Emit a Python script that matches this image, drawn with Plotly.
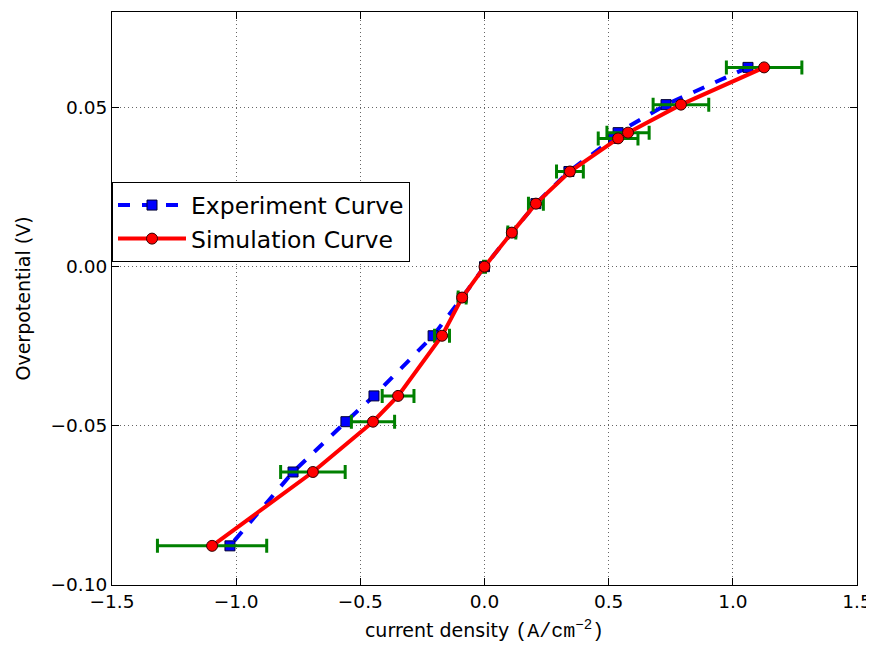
import plotly.graph_objects as go

# Experiment curve
exp_x = [1.061, 0.731, 0.538, 0.52, 0.34, 0.207, 0.11, 0.0, -0.09, -0.207, -0.445, -0.558, -0.771, -1.025]
exp_y = [0.0626, 0.0509, 0.0421, 0.0403, 0.0299, 0.0198, 0.0107, 0.0, -0.0097, -0.0217, -0.0406, -0.0487, -0.0645, -0.0877]

# Simulation curve
sim_x = [1.126, 0.791, 0.578, 0.538, 0.344, 0.207, 0.11, 0.0, -0.09, -0.171, -0.348, -0.449, -0.691, -1.097]
sim_y = [0.0626, 0.0509, 0.0421, 0.0403, 0.0299, 0.0198, 0.0107, 0.0, -0.0097, -0.0217, -0.0406, -0.0487, -0.0645, -0.0877]
sim_err = [0.152, 0.112, 0.085, 0.08, 0.054, 0.03, 0.016, 0.004, 0.016, 0.03, 0.064, 0.087, 0.13, 0.22]

x_ticks = [-1.5, -1.0, -0.5, 0.0, 0.5, 1.0, 1.5]
y_ticks = [-0.10, -0.05, 0.00, 0.05]

fig = go.Figure()
fig.add_trace(go.Scatter(
    x=exp_x, y=exp_y, mode="lines+markers", name="Experiment Curve",
    line=dict(color="#0000ff", width=4, dash="dash"),
    marker=dict(symbol="square", size=10, color="#0000ff", line=dict(color="#000033", width=1)),
))
fig.add_trace(go.Scatter(
    x=sim_x, y=sim_y, mode="lines+markers", name="Simulation Curve",
    line=dict(color="#ff0000", width=4),
    marker=dict(symbol="circle", size=11, color="#ff0000", line=dict(color="#330000", width=1)),
    error_x=dict(type="data", array=sim_err, visible=True, color="#008000", thickness=3, width=7),
))

axis_common = dict(
    showline=True, linecolor="black", linewidth=1, mirror="ticks",
    ticks="inside", ticklen=7, tickcolor="black",
    showgrid=True, gridcolor="#666666", griddash="1px,3px", gridwidth=1,
    zeroline=False, tickfont=dict(size=18.5, color="black"),
)

fig.update_layout(
    width=874, height=650,
    margin=dict(l=104, r=25, t=4, b=73),
    plot_bgcolor="white", paper_bgcolor="white",
    font=dict(family="DejaVu Sans", color="black"),
    xaxis=dict(range=[-1.5, 1.5], tickvals=x_ticks, tickformat=".1f",
               title=dict(text="current density <span style='font-family:Liberation Mono;font-size:20px'>(A/cm<sup>−2</sup>)</span>",
                          font=dict(size=19), standoff=12),
               **axis_common),
    yaxis=dict(range=[-0.10, 0.08], tickvals=y_ticks, tickformat=".2f",
               title=dict(text="Overpotential (V)", font=dict(size=19), standoff=14),
               **axis_common),
    legend=dict(x=0.0, y=0.633, xanchor="left", yanchor="middle",
                bordercolor="black", borderwidth=1, bgcolor="white",
                font=dict(size=23.5), itemwidth=68),
    showlegend=True,
)

fig.write_html("out.html")
